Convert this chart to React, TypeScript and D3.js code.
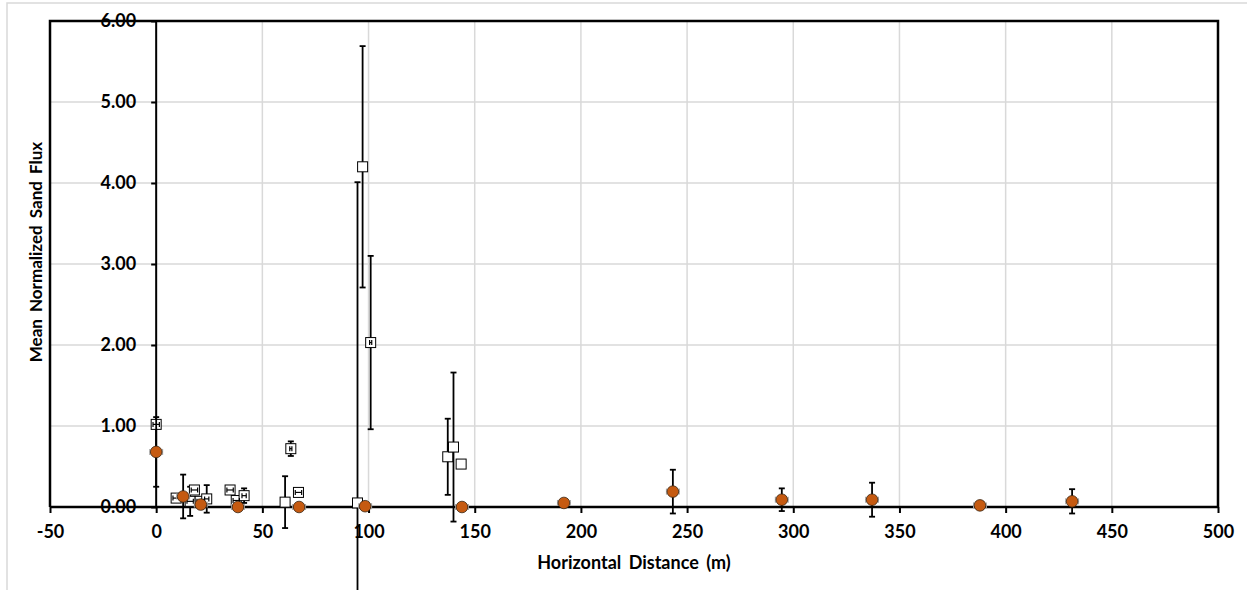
import * as d3 from 'd3'
import React, { FC, useEffect, useRef } from 'react'

// open squares
const squareX = [0, 9.4, 16, 18, 20.7, 23.8, 34.8, 37.7, 41.4, 60.7, 63.4, 67, 94.8, 97.2, 101, 137.3, 140, 143.6]
const squareY = [1.02, 0.11, 0.07, 0.21, 0.07, 0.1, 0.21, 0.08, 0.14, 0.06, 0.72, 0.18, 0.05, 4.2, 2.03, 0.62, 0.74, 0.53]
const squareErr = [0.04, 0.02, 0.18, 0.03, 0.02, 0.17, 0.02, 0.02, 0.09, 0.32, 0.09, 0.03, 3.96, 1.49, 1.07, 0.47, 0.92, 0]
const squareXErr = [1.5, 1.5, 1.5, 1.5, 1.5, 1, 1.5, 1.5, 1, 0, 0.5, 1.5, 0, 0, 0.5, 0, 0, 0]

// orange circles
const circleX = [0, 12.7, 21, 38.5, 67.3, 98.4, 144, 192, 243.3, 294.6, 337.1, 387.9, 431.3]
const circleY = [0.68, 0.13, 0.03, 0.0, 0.0, 0.01, 0.0, 0.05, 0.19, 0.09, 0.09, 0.02, 0.07]
const circleErr = [0.43, 0.27, 0.05, 0.02, 0, 0.02, 0, 0.03, 0.27, 0.14, 0.21, 0.02, 0.15]
const circleXErr = [3, 3, 3, 3, 3, 3, 3, 3, 3, 3, 3, 3, 3]

const xTicks = [-50, 0, 50, 100, 150, 200, 250, 300, 350, 400, 450, 500]
const yTicks = [0, 1, 2, 3, 4, 5, 6]

const W = 1247
const H = 590
const font = 'Lato, "Open Sans", sans-serif'

const App: FC = () => {
  const axisBottomRef = useRef<SVGGElement>(null)
  const axisLeftRef = useRef<SVGGElement>(null)

  const x = d3.scaleLinear().domain([-50, 500]).range([50, 1218])
  const y = d3.scaleLinear().domain([0, 6]).range([507, 21])

  useEffect(() => {
    if (axisBottomRef.current) {
      const g = d3.select(axisBottomRef.current)
      g.call(d3.axisBottom(x).tickValues(xTicks).tickSize(6).tickPadding(12).tickFormat((d) => String(d)))
      g.select('.domain').remove()
      g.selectAll('line').attr('stroke', '#000').attr('stroke-width', 2)
      g.selectAll('text').attr('font-size', 18).attr('font-weight', 'bold').attr('font-family', font).attr('fill', '#000')
    }
    if (axisLeftRef.current) {
      const g = d3.select(axisLeftRef.current)
      g.call(d3.axisLeft(y).tickValues(yTicks).tickSize(5).tickPadding(15).tickFormat(d3.format('.2f')))
      g.select('.domain').remove()
      g.selectAll('line').attr('stroke', '#000').attr('stroke-width', 2)
      g.selectAll('text').attr('font-size', 18).attr('font-weight', 'bold').attr('font-family', font).attr('fill', '#000')
    }
  }, [])

  const cap = 3

  return (
    <svg width={W} height={H} style={{ position: 'absolute', left: 0, top: 0 }}>
      <rect x={7} y={3} width={W} height={H} fill='#fff' stroke='#d9d9d9' strokeWidth={1.5} />
      {/* gridlines */}
      {xTicks.map((t) => (
        <line key={`gx-${t}`} x1={x(t)} x2={x(t)} y1={y(6)} y2={y(0)} stroke='#d9d9d9' strokeWidth={1.5} />
      ))}
      {yTicks.map((t) => (
        <line key={`gy-${t}`} x1={x(-50)} x2={x(500)} y1={y(t)} y2={y(t)} stroke='#d9d9d9' strokeWidth={1.5} />
      ))}
      {/* plot frame */}
      <path d={`M${x(-50)},${y(0)}V${y(6)}H${x(500)}V${y(0)}`} fill='none' stroke='#000' strokeWidth={2.5} />
      <g ref={axisBottomRef} transform={`translate(0, ${y(0)})`} />
      <g ref={axisLeftRef} transform={`translate(${x(0)}, 0)`} />
      <line x1={x(0)} x2={x(0)} y1={y(6)} y2={y(0)} stroke='#000' strokeWidth={2} />
      <line x1={x(-50)} x2={x(500)} y1={y(0)} y2={y(0)} stroke='#000' strokeWidth={2.5} />

      {/* square series */}
      {squareX.map((v, i) => (
        <g key={`se-${i}`} stroke='#000' strokeWidth={1.8}>
          {squareErr[i] > 0 && (
            <>
              <line x1={x(v)} x2={x(v)} y1={y(squareY[i] + squareErr[i])} y2={y(squareY[i] - squareErr[i])} />
              <line x1={x(v) - cap} x2={x(v) + cap} y1={y(squareY[i] + squareErr[i])} y2={y(squareY[i] + squareErr[i])} />
              <line x1={x(v) - cap} x2={x(v) + cap} y1={y(squareY[i] - squareErr[i])} y2={y(squareY[i] - squareErr[i])} />
            </>
          )}
        </g>
      ))}
      {squareX.map((v, i) => (
        <rect key={`sq-${i}`} x={x(v) - 5} y={y(squareY[i]) - 5} width={10} height={10} fill='#fff' stroke='#000' strokeWidth={1} />
      ))}
      {squareX.map((v, i) =>
        squareXErr[i] > 0 ? (
          <g key={`sxe-${i}`} stroke='#000' strokeWidth={1.2}>
            <line x1={x(v - squareXErr[i])} x2={x(v + squareXErr[i])} y1={y(squareY[i])} y2={y(squareY[i])} />
            <line x1={x(v - squareXErr[i])} x2={x(v - squareXErr[i])} y1={y(squareY[i]) - 2.5} y2={y(squareY[i]) + 2.5} />
            <line x1={x(v + squareXErr[i])} x2={x(v + squareXErr[i])} y1={y(squareY[i]) - 2.5} y2={y(squareY[i]) + 2.5} />
          </g>
        ) : null
      )}

      {/* circle series */}
      {circleX.map((v, i) => (
        <g key={`ce-${i}`}>
          <g stroke='#a6a6a6' strokeWidth={1.2}>
            <line x1={x(v - circleXErr[i])} x2={x(v + circleXErr[i])} y1={y(circleY[i])} y2={y(circleY[i])} />
            <line x1={x(v - circleXErr[i])} x2={x(v - circleXErr[i])} y1={y(circleY[i]) - 3} y2={y(circleY[i]) + 3} />
            <line x1={x(v + circleXErr[i])} x2={x(v + circleXErr[i])} y1={y(circleY[i]) - 3} y2={y(circleY[i]) + 3} />
          </g>
          {circleErr[i] > 0 && (
            <g stroke='#000' strokeWidth={1.8}>
              <line x1={x(v)} x2={x(v)} y1={y(circleY[i] + circleErr[i])} y2={y(circleY[i] - circleErr[i])} />
              <line x1={x(v) - cap} x2={x(v) + cap} y1={y(circleY[i] + circleErr[i])} y2={y(circleY[i] + circleErr[i])} />
              <line x1={x(v) - cap} x2={x(v) + cap} y1={y(circleY[i] - circleErr[i])} y2={y(circleY[i] - circleErr[i])} />
            </g>
          )}
        </g>
      ))}
      {circleX.map((v, i) => (
        <circle key={`c-${i}`} cx={x(v)} cy={y(circleY[i])} r={5.8} fill='#c55a11' stroke='#3a2410' strokeWidth={0.8} />
      ))}

      <text x={634} y={569} textAnchor='middle' fontFamily={font} fontWeight='bold' fontSize={18} wordSpacing={3}>
        Horizontal Distance (m)
      </text>
      <text
        transform={`translate(42, 252) rotate(-90)`}
        textAnchor='middle'
        fontFamily={font}
        fontWeight='bold'
        fontSize={17}
        wordSpacing={3}
      >
        Mean Normalized Sand Flux
      </text>
    </svg>
  )
}

export default App
